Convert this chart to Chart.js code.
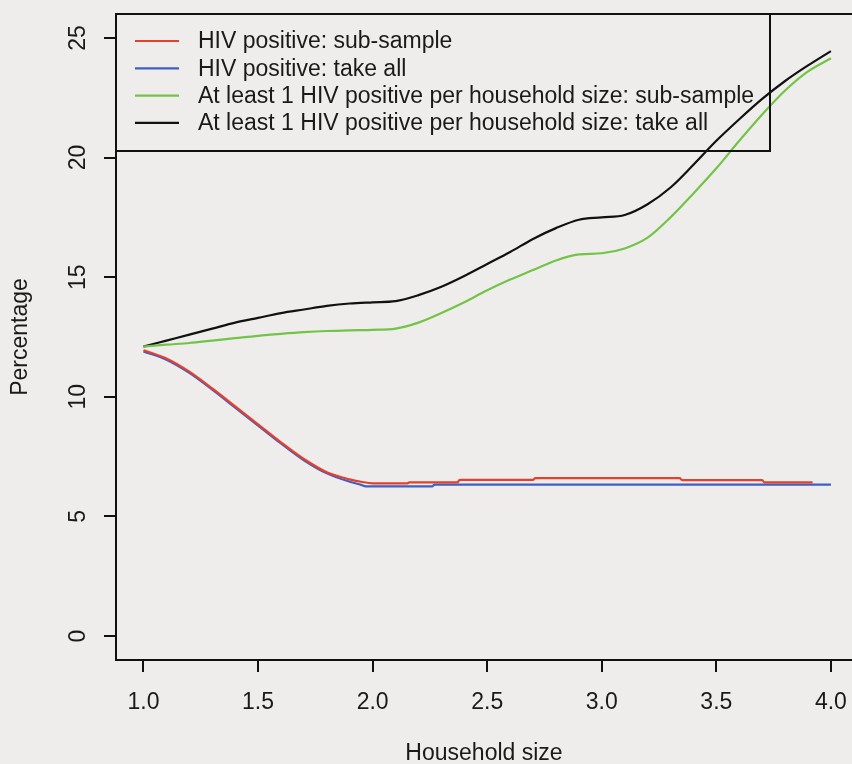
<!DOCTYPE html>
<html>
<head>
<meta charset="utf-8">
<script src="https://cdn.jsdelivr.net/npm/chart.js@4.4.1/dist/chart.umd.min.js"></script>
<style>
  html, body { margin: 0; padding: 0; background: #efedeb; overflow: hidden; }
  canvas { display: block; }
</style>
</head>
<body>
<canvas id="chart" width="852" height="764"></canvas>
<script>
// household size grid for the "at least 1 HIV positive" curves
const hhSize = [1.0, 1.1, 1.2, 1.3, 1.4, 1.5, 1.6, 1.7, 1.8, 1.9, 2.0, 2.1, 2.2, 2.3, 2.4, 2.5,
  2.6, 2.7, 2.8, 2.9, 3.0, 3.1, 3.2, 3.3, 3.4, 3.5, 3.6, 3.7, 3.8, 3.9, 4.0];
const atLeastOneTakeAll = [12.1, 12.35, 12.6, 12.85, 13.1, 13.3, 13.5, 13.65, 13.8, 13.9, 13.95, 14.0,
  14.25, 14.6, 15.05, 15.55, 16.05, 16.6, 17.05, 17.4, 17.5, 17.6, 18.05, 18.75, 19.7, 20.7, 21.6,
  22.45, 23.2, 23.85, 24.45];
const atLeastOneSubSample = [12.1, 12.18, 12.25, 12.35, 12.45, 12.55, 12.63, 12.7, 12.75, 12.78, 12.8,
  12.85, 13.1, 13.5, 13.95, 14.45, 14.9, 15.3, 15.7, 15.95, 16.0, 16.2, 16.65, 17.5, 18.5, 19.55,
  20.7, 21.8, 22.8, 23.6, 24.15];

// HIV positive curves (step-like after 2.0)
const hivSubX = [1.0, 1.1, 1.2, 1.3, 1.4, 1.5, 1.6, 1.7, 1.8, 1.9, 1.95, 2.0, 2.15, 2.16, 2.37, 2.38,
  2.7, 2.71, 3.34, 3.35, 3.7, 3.71, 3.92];
const hivSubY = [11.95, 11.6, 11.05, 10.35, 9.6, 8.85, 8.1, 7.4, 6.85, 6.55, 6.45, 6.38, 6.38, 6.42,
  6.42, 6.53, 6.53, 6.6, 6.6, 6.52, 6.52, 6.42, 6.42];
const hivAllX = [1.0, 1.1, 1.2, 1.3, 1.4, 1.5, 1.6, 1.7, 1.8, 1.9, 1.95, 1.97, 2.26, 2.27, 4.0];
const hivAllY = [11.9, 11.55, 11.0, 10.3, 9.55, 8.8, 8.05, 7.35, 6.8, 6.45, 6.32, 6.26, 6.26, 6.33, 6.33];

const xTicks = [1.0, 1.5, 2.0, 2.5, 3.0, 3.5, 4.0];
const yTicks = [0, 5, 10, 15, 20, 25];

const seriesLabels = [
  'HIV positive: sub-sample',
  'HIV positive: take all',
  'At least 1 HIV positive per household size: sub-sample',
  'At least 1 HIV positive per household size: take all',
];
const seriesColors = ['#e63f2a', '#3e5fc4', '#72c447', '#111111'];

const FONT = "'Liberation Sans', Arial, Helvetica, sans-serif";
const toPoints = (xs, ys) => xs.map((x, i) => ({ x, y: ys[i] }));

const backgroundPlugin = {
  id: 'bg',
  beforeDraw(chart) {
    const ctx = chart.ctx;
    ctx.save();
    ctx.fillStyle = '#efedeb';
    ctx.fillRect(0, 0, chart.width, chart.height);
    ctx.restore();
  },
};

// top frame line plus the R-style legend box in the top-left corner
const frameLegendPlugin = {
  id: 'frameLegend',
  afterDraw(chart) {
    const { ctx, chartArea } = chart;
    ctx.save();
    ctx.strokeStyle = '#111';
    ctx.lineWidth = 2;
    ctx.beginPath();
    ctx.moveTo(chartArea.left, chartArea.top);
    ctx.lineTo(chartArea.right, chartArea.top);
    ctx.stroke();

    const boxLeft = chartArea.left;
    const boxTop = chartArea.top;
    const boxRight = 770;
    const boxBottom = 151;
    ctx.strokeRect(boxLeft, boxTop, boxRight - boxLeft, boxBottom - boxTop);

    ctx.font = `23px ${FONT}`;
    ctx.textBaseline = 'middle';
    ctx.textAlign = 'left';
    chart.data.datasets.forEach((ds, i) => {
      const rowY = 41 + i * 27.3;
      ctx.strokeStyle = ds.borderColor;
      ctx.lineWidth = 2.2;
      ctx.beginPath();
      ctx.moveTo(boxLeft + 19, rowY);
      ctx.lineTo(boxLeft + 63, rowY);
      ctx.stroke();
      ctx.fillStyle = '#1a1a1a';
      ctx.fillText(ds.label, boxLeft + 82, rowY + 1);
    });
    ctx.restore();
  },
};

const datasets = [
  toPoints(hivSubX, hivSubY),
  toPoints(hivAllX, hivAllY),
  toPoints(hhSize, atLeastOneSubSample),
  toPoints(hhSize, atLeastOneTakeAll),
].map((data, i) => ({
  label: seriesLabels[i],
  data,
  borderColor: seriesColors[i],
  backgroundColor: seriesColors[i],
  borderWidth: 2.2,
  pointRadius: 0,
  cubicInterpolationMode: 'monotone',
  fill: false,
}));

new Chart(document.getElementById('chart').getContext('2d'), {
  type: 'line',
  data: { datasets },
  plugins: [backgroundPlugin, frameLegendPlugin],
  options: {
    responsive: false,
    animation: false,
    devicePixelRatio: 1,
    layout: { padding: { top: 14, right: 0, left: 0, bottom: 0 } },
    plugins: { legend: { display: false }, tooltip: { enabled: false } },
    scales: {
      x: {
        type: 'linear',
        min: 0.88,
        max: 4.092,
        afterBuildTicks: (scale) => { scale.ticks = xTicks.map((value) => ({ value })); },
        afterFit: (scale) => {
          scale.height = 104;
          scale.paddingLeft = 0;
          scale.paddingRight = 0;
        },
        border: { display: true, color: '#111', width: 2 },
        grid: { drawOnChartArea: false, drawTicks: true, tickLength: 12, color: '#111', lineWidth: 2 },
        ticks: {
          color: '#1a1a1a',
          font: { family: FONT, size: 23 },
          padding: 17,
          maxRotation: 0,
          autoSkip: false,
          callback: (value) => Number(value).toFixed(1),
        },
        title: {
          display: true,
          text: 'Household size',
          color: '#1a1a1a',
          font: { family: FONT, size: 23 },
          padding: { top: 0, bottom: -3 },
        },
      },
      y: {
        min: -1,
        max: 26,
        afterBuildTicks: (scale) => { scale.ticks = yTicks.map((value) => ({ value })); },
        afterFit: (scale) => {
          scale.width = 116;
          scale.paddingTop = 0;
          scale.paddingBottom = 0;
        },
        border: { display: true, color: '#111', width: 2 },
        grid: { drawOnChartArea: false, drawTicks: true, tickLength: 12, color: '#111', lineWidth: 2 },
        ticks: {
          color: '#1a1a1a',
          font: { family: FONT, size: 23 },
          minRotation: 90,
          maxRotation: 90,
          crossAlign: 'center',
          padding: 13,
          autoSkip: false,
        },
        title: {
          display: true,
          text: 'Percentage',
          color: '#1a1a1a',
          font: { family: FONT, size: 23 },
          padding: { top: 7, bottom: 0 },
        },
      },
    },
  },
});
</script>
</body>
</html>
